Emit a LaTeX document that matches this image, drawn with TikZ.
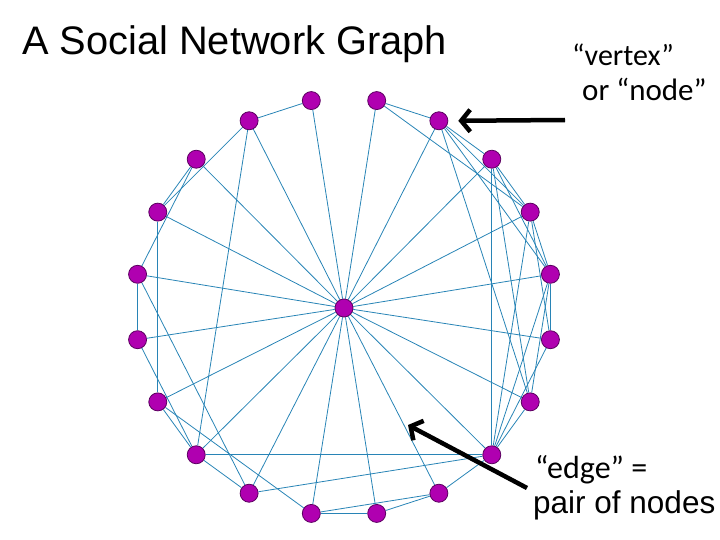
\documentclass[tikz,border=0pt]{standalone}
\usepackage{fontspec}
\setmainfont{Liberation Sans}
\newfontfamily\calfont{Carlito}
\usepackage{tikz}
\usetikzlibrary{arrows.meta,backgrounds}
\definecolor{vtxCol}{RGB}{176,0,176}
\definecolor{vtxLine}{RGB}{90,0,95}
\definecolor{edgCol}{RGB}{40,132,182}
\tikzset{
  vtx/.style={circle, draw=vtxLine, fill=vtxCol, thick, minimum size=18pt, inner sep=0pt},
  edg/.style={edgCol, line width=0.8pt},
  ptr/.style={-{Straight Barb[length=9pt, width=22pt]}, line width=4.5pt, black},
  txt/.style={inner sep=0pt, anchor=base west},
}

\begin{document}
\begin{tikzpicture}[x=1pt, y=-1pt]
  \useasboundingbox (0,0) rectangle (720,540);

  % title and labels
  \node[txt, font=\fontsize{39.8}{46}\selectfont] (title) at (22,55) {A Social Network Graph};
  \node[txt, font=\calfont\fontsize{30}{34}\selectfont] (vlab) at (572,66) {“vertex”};
  \node[txt, font=\calfont\fontsize{31}{34}\selectfont] (nlab) at (582,101) {or “node”};
  \node[txt, font=\calfont\fontsize{32}{36}\selectfont] (elab) at (535,478) {“edge” =};
  \node[txt, font=\fontsize{31.5}{36}\selectfont] (plab) at (533,513) {pair of nodes};

  % hub and ring of vertices
  \node[vtx] (hub) at (344,308) {};
  \foreach \i in {1,...,20} {
    \pgfmathsetmacro\ang{99-18*(\i-1)}
    \node[vtx] (v\i) at ({344+209*cos(\ang)},{307-209*sin(\ang)}) {};
  }

  \begin{scope}[on background layer]
    % spokes
    \foreach \i in {1,...,20}
      \draw[edg] (hub) -- (v\i);
    % ring edges
    \foreach \a/\b in {1/20, 20/18, 20/14, 19/18, 19/17, 18/15, 17/16, 17/13,
                       16/14, 15/14, 15/12, 14/13, 14/9, 13/9, 12/11, 12/10,
                       11/10, 10/9, 2/3, 2/5, 3/4, 3/5, 3/6, 3/8, 4/5, 4/6,
                       4/8, 4/9, 5/6, 5/7, 5/9, 6/7, 6/8, 6/9, 7/9, 8/9}
      \draw[edg] (v\a) -- (v\b);
  \end{scope}

  % pointers
  \coordinate (vtail) at (565,120);
  \coordinate (etail) at (527,488);
  \coordinate (etip) at (408,425);
  \draw[ptr] (vtail) -- ([xshift=10pt]v3.east);
  \draw[ptr] (etail) -- (etip);
\end{tikzpicture}
\end{document}
